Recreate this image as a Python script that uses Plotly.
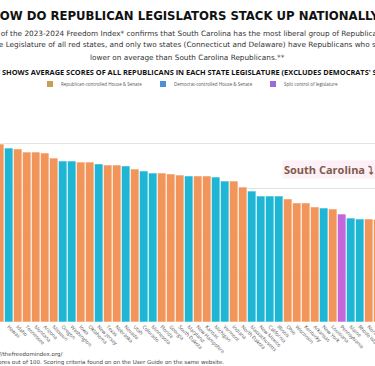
import plotly.graph_objects as go

# ---- data (visible portion of the chart) ----
states = [
    "Wyoming", "Hawaii", "Idaho", "Tennessee", "Montana", "Arizona", "Missouri",
    "Oregon", "Washington", "Iowa", "Oklahoma", "New Jersey", "Texas", "Nebraska",
    "Nevada", "Utah", "Colorado", "Minnesota", "Florida", "Georgia", "South Dakota",
    "Maryland", "New Hampshire", "Kansas", "Michigan", "Vermont", "Indiana",
    "North Dakota", "Massachusetts", "New Mexico", "California", "Illinois", "Ohio",
    "Wisconsin", "Kentucky", "Arkansas", "New York", "Louisiana", "Pennsylvania",
    "Maine", "Rhode Island", "North Carolina", "West Virginia",
]
scores = [
    79.8, 78.0, 77.6, 76.2, 76.2, 75.8, 73.5,
    72.2, 72.2, 71.7, 71.7, 70.9, 70.4, 70.4,
    70.0, 68.6, 67.7, 66.8, 66.8, 66.4, 65.9,
    65.5, 65.5, 65.5, 65.0, 63.2, 63.2,
    60.5, 58.7, 56.5, 56.5, 56.5, 55.2,
    53.4, 53.4, 51.6, 51.1, 50.7, 48.4,
    46.6, 46.2, 46.2, 46.0,
]
control = [
    "R", "D", "R", "R", "R", "R", "R",
    "D", "D", "R", "R", "D", "R", "R",
    "D", "R", "D", "D", "R", "R", "R",
    "D", "R", "R", "D", "D", "R",
    "R", "D", "D", "D", "D", "R",
    "R", "R", "R", "D", "R", "S",
    "D", "D", "R", "R",
]
legend_keys = ["R", "D", "S"]
legend_labels = {
    "R": "Republican-controlled House & Senate",
    "D": "Democrat-controlled House & Senate",
    "S": "Split control of legislature",
}
bar_colors = {"R": "#f1955a", "D": "#1fb6d6", "S": "#c466dc"}
legend_colors = {"R": "#c7a153", "D": "#4f8fda", "S": "#9a6bdc"}

W, H = 375, 366
PLOT_TOP, PLOT_BOT = 99, 322
BODY = "DejaVu Sans, Open Sans, sans-serif"
LEGEND_X = {"R": 47, "D": 160, "S": 270}   # pixel positions of legend swatches


def py(y):
    return (PLOT_BOT - y) / (PLOT_BOT - PLOT_TOP)


def px(x):
    return x / W


fig = go.Figure()
fig.add_trace(go.Bar(
    x=states, y=scores,
    marker=dict(color=[bar_colors[c] for c in control],
                line=dict(color="rgba(255,255,255,0.55)", width=1)),
    showlegend=False,
))

annotations = [
    dict(text="<b>HOW DO REPUBLICAN LEGISLATORS STACK UP NATIONALLY?</b>",
         x=0.5, y=py(15),
         font=dict(family="Liberation Sans Narrow, DejaVu Sans Condensed, sans-serif", size=13, color="#111")),
    dict(text="A review of the 2023-2024 Freedom Index* confirms that South Carolina has the most liberal group of Republicans in the",
         x=0.5, y=py(33), font=dict(family=BODY, size=7.3, color="#333")),
    dict(text="State Legislature of all red states, and only two states (Connecticut and Delaware) have Republicans who score",
         x=0.5, y=py(45), font=dict(family=BODY, size=7.3, color="#333")),
    dict(text="lower on average than South Carolina Republicans.**",
         x=0.5, y=py(58), font=dict(family=BODY, size=7.3, color="#333")),
    dict(text="<b>THIS CHART SHOWS AVERAGE SCORES OF ALL REPUBLICANS IN EACH STATE LEGISLATURE (EXCLUDES DEMOCRATS' SCORES)</b>",
         x=px(-45), xanchor="left", y=py(72), font=dict(family="Open Sans", size=7.4, color="#111")),
    dict(text="<b>South Carolina ⤵</b>", x=px(282), xanchor="left", y=py(169),
         font=dict(family="Open Sans", size=11, color="#7d5a4c"), bgcolor="#fdf0f6"),
    dict(text="https://thefreedomindex.org/", x=px(-19), xanchor="left", y=py(354),
         font=dict(family=BODY, size=5.5, color="#444")),
    dict(text="*Scores out of 100. Scoring criteria found on on the User Guide on the same website.",
         x=px(-13), xanchor="left", y=py(362),
         font=dict(family=BODY, size=5.5, color="#444")),
]
shapes = []
for k in legend_keys:
    x0 = LEGEND_X[k]
    shapes.append(dict(type="rect", xref="paper", yref="paper",
                       x0=px(x0), x1=px(x0 + 6), y0=py(87), y1=py(81),
                       fillcolor=legend_colors[k], line=dict(width=0)))
    annotations.append(dict(text=legend_labels[k], x=px(x0 + 12), xanchor="left", y=py(84),
                            font=dict(family="Open Sans", size=4.5, color="#555")))
for a in annotations:
    a.setdefault("xanchor", "center")
    a.update(xref="paper", yref="paper", yanchor="middle", showarrow=False)

fig.update_layout(
    width=W, height=H,
    margin=dict(l=0, r=0, t=PLOT_TOP, b=H - PLOT_BOT, pad=0, autoexpand=False),
    paper_bgcolor="white", plot_bgcolor="white",
    bargap=0.06,
    annotations=annotations,
    shapes=shapes,
    showlegend=False,
    xaxis=dict(range=[0.033, 41.7], tickangle=45, tickfont=dict(family="Open Sans", size=5, color="#555"),
               showgrid=False, zeroline=False, showline=False, ticks="", automargin=False),
    yaxis=dict(range=[0, 100], dtick=20, showticklabels=False, gridcolor="#e3e3e3",
               gridwidth=1, zeroline=False, showline=False, automargin=False),
)

fig.write_html("out.html", post_script="document.body.style.margin='0';",
               config={"displayModeBar": False})
